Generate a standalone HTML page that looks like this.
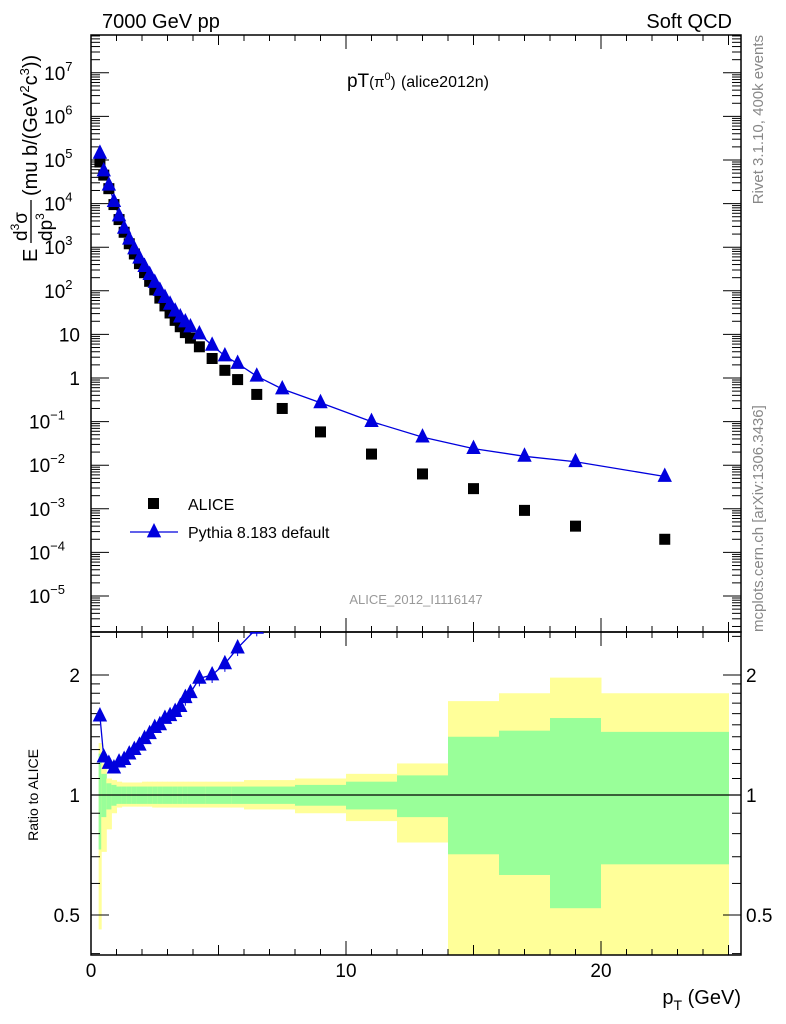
<!DOCTYPE html>
<html><head><meta charset="utf-8"><style>
body{margin:0;background:#fff}
svg{display:block;font-family:"Liberation Sans",sans-serif}
</style></head><body>
<svg id="c" width="786" height="1024" viewBox="0 0 786 1024" xmlns="http://www.w3.org/2000/svg">
<text x="102" y="28" font-size="20">7000 GeV pp</text>
<text x="732" y="28" font-size="20" text-anchor="end">Soft QCD</text>
<text x="418" y="87" font-size="19" text-anchor="middle">pT<tspan font-size="15">(π<tspan dy="-7" font-size="11">0</tspan><tspan dy="7">)</tspan></tspan> <tspan font-size="16">(alice2012n)</tspan></text>
<text x="416" y="604" font-size="13" fill="#999" text-anchor="middle">ALICE_2012_I1116147</text>
<text transform="translate(763,35) rotate(-90)" font-size="15" fill="#888" text-anchor="end">Rivet 3.1.10,  400k events</text>
<text transform="translate(763,632) rotate(-90)" font-size="15" fill="#888">mcplots.cern.ch [arXiv:1306.3436]</text>
<g>
<text transform="translate(37,262) rotate(-90)" font-size="20">E</text>
<text transform="translate(27,241) rotate(-90)" font-size="19">d<tspan font-size="12" dy="-8">3</tspan><tspan dy="8">σ</tspan></text>
<line x1="31" y1="200" x2="31" y2="243" stroke="#000" stroke-width="1.3"/>
<text transform="translate(52,241) rotate(-90)" font-size="19">dp<tspan font-size="12" dy="-8">3</tspan></text>
<text transform="translate(37,196) rotate(-90)" font-size="20">(mu b/(GeV<tspan font-size="13" dy="-8">2</tspan><tspan dy="8">c</tspan><tspan font-size="13" dy="-8">3</tspan><tspan dy="8">))</tspan></text>
</g>
<text transform="translate(38,795) rotate(-90)" font-size="14" text-anchor="middle">Ratio to ALICE</text>
<text x="741" y="1004" font-size="20" text-anchor="end">p<tspan font-size="14" dy="6">T</tspan><tspan dy="-6"> (GeV)</tspan></text>
<g id="g"></g>
</svg>
<script>
const ptLow=[0.3,0.4,0.6,0.8,1.0,1.2,1.4,1.6,1.8,2.0,2.2,2.4,2.6,2.8,3.0,3.2,3.4,3.6,3.8,4.0,4.5,5.0,5.5,6.0,7.0,8.0,10,12,14,16,18,20];
const ptHigh=[0.4,0.6,0.8,1.0,1.2,1.4,1.6,1.8,2.0,2.2,2.4,2.6,2.8,3.0,3.2,3.4,3.6,3.8,4.0,4.5,5.0,5.5,6.0,7.0,8.0,10,12,14,16,18,20,25];
const aliceVals=[9e4,4.5e4,2.2e4,9.5e3,4.3e3,2.2e3,1.2e3,700,420,260,165,105,68,45,31,21,15,11,8.2,5.2,2.8,1.5,0.92,0.42,0.2,0.058,0.018,0.0063,0.0029,0.00092,0.0004,0.0002];
const pythiaVals=[1.42e5,5.6e4,2.64e4,1.11e4,5.2e3,2.7e3,1.52e3,910,560,360,235,155,102,70,49,34,25,19.3,14.8,10.2,5.6,3.2,2.15,1.1,0.56,0.27,0.1,0.044,0.024,0.016,0.012,0.0055];
const bandTotUp=[1.35,1.2,1.1,1.09,1.08,1.075,1.075,1.075,1.075,1.08,1.08,1.08,1.08,1.08,1.08,1.08,1.08,1.08,1.08,1.08,1.08,1.08,1.08,1.09,1.09,1.1,1.13,1.2,1.72,1.8,1.97,1.8];
const bandTotLo=[0.46,0.72,0.82,0.9,0.93,0.935,0.935,0.935,0.935,0.935,0.935,0.93,0.93,0.93,0.93,0.93,0.93,0.93,0.93,0.93,0.93,0.93,0.93,0.92,0.92,0.9,0.86,0.76,0.3,0.3,0.3,0.3];
const bandStatUp=[1.27,1.13,1.07,1.06,1.05,1.05,1.05,1.05,1.05,1.05,1.05,1.05,1.05,1.05,1.05,1.05,1.05,1.05,1.05,1.05,1.05,1.05,1.05,1.05,1.05,1.06,1.08,1.12,1.4,1.45,1.56,1.44];
const bandStatLo=[0.73,0.88,0.92,0.94,0.95,0.95,0.95,0.95,0.95,0.95,0.95,0.95,0.95,0.95,0.95,0.95,0.95,0.95,0.95,0.95,0.95,0.95,0.95,0.95,0.95,0.94,0.92,0.88,0.71,0.63,0.52,0.67];
const yTickExp=[-5,-4,-3,-2,-1,0,1,2,3,4,5,6,7];
const yTickText=["10","10","10","10","10","1","10","10","10","10","10","10","10"];
const yTickSup=["−5","−4","−3","−2","−1","","","2","3","4","5","6","7"];
const rTicks=[0.5,1,2];
const rTickText=["0.5","1","2"];
const xTicks=[0,10,20];

const NS="http://www.w3.org/2000/svg";
const g=document.getElementById('g');
const L=91,R=741,T=35,M=632,B=955;
const xs=v=>L+v*25.5;
const ys=v=>378-43.6*Math.log10(v);
const yr=v=>795-398.6*Math.log10(v);
function mk(tag,at,parent){const e=document.createElementNS(NS,tag);for(const k in at)e.setAttribute(k,at[k]);(parent||g).appendChild(e);return e;}
const defs=mk('defs',{});
const cp=mk('clipPath',{id:'cr'},defs);mk('rect',{x:L,y:M,width:R-L,height:B-M},cp);
const cp2=mk('clipPath',{id:'ct'},defs);mk('rect',{x:L,y:T,width:R-L,height:M-T},cp2);
const bg=mk('g',{'clip-path':'url(#cr)'});


for(let i=0;i<ptLow.length;i++){
 const x0=xs(ptLow[i]),x1=xs(ptHigh[i]);
 const r1=mk('rect',{x:x0,y:yr(bandTotUp[i]),width:x1-x0+0.5,height:yr(bandTotLo[i])-yr(bandTotUp[i]),fill:'#ffff99'},bg);
 
 
 const r2=mk('rect',{x:x0,y:yr(bandStatUp[i]),width:x1-x0+0.5,height:yr(bandStatLo[i])-yr(bandStatUp[i]),fill:'#99ff99'},bg);
 
 
}
mk('line',{x1:L,x2:R,y1:yr(1),y2:yr(1),stroke:'#000','stroke-width':1.2});
const f1=mk('rect',{x:L,y:T,width:R-L,height:M-T,fill:'none',stroke:'#000','stroke-width':1.5});


const f2=mk('rect',{x:L,y:M,width:R-L,height:B-M,fill:'none',stroke:'#000','stroke-width':1.5});


for(let v=0;v<=25;v++){
 const len=v%10==0?14:(v%5==0?10:6);
 for(const [a,b] of [[T,1],[M,1],[M,-1],[B,-1]]) mk('line',{x1:xs(v),x2:xs(v),y1:a,y2:a+b*len,stroke:'#000'});
}
xTicks.forEach(v=>{const t=mk('text',{x:xs(v),y:977,'font-size':19,'text-anchor':'middle'});t.textContent=v;
 
 });
for(let e=-6;e<=7;e++){for(let m=1;m<=9;m++){const y=ys(m*Math.pow(10,e));if(y<T||y>M)continue;
 const len=m==1?18:9;mk('line',{x1:L,x2:L+len,y1:y,y2:y,stroke:'#000'});mk('line',{x1:R,x2:R-len,y1:y,y2:y,stroke:'#000'});}}
yTickExp.forEach((e,i)=>{const t=mk('text',{x:80,y:ys(Math.pow(10,e))+7,'font-size':19,'text-anchor':'end'});
 
 
 if(yTickSup[i]){t.setAttribute('x',80-(yTickSup[i].length*7.5));t.textContent=yTickText[i];const s=mk('tspan',{dy:-9,'font-size':13},t);s.textContent=yTickSup[i];}else t.textContent=yTickText[i];});
[0.4,0.5,0.6,0.7,0.8,0.9,1,1.1,1.2,1.3,1.4,1.5,1.6,1.7,1.8,1.9,2,2.5].forEach(v=>{const y=yr(v);if(y<M||y>B)return;const len=(v==0.5||v==1||v==2)?18:9;
 mk('line',{x1:L,x2:L+len,y1:y,y2:y,stroke:'#000'});mk('line',{x1:R,x2:R-len,y1:y,y2:y,stroke:'#000'});});
rTicks.forEach((v,i)=>{for(const [x,a] of [[80,'end'],[746,'start']]){const t=mk('text',{x:x,y:yr(v)+7,'font-size':19,'text-anchor':a});t.textContent=rTickText[i];
 
 }});
const mid=ptLow.map((l,i)=>(l+ptHigh[i])/2);
const sg=mk('g',{'clip-path':'url(#ct)'});
mk('polyline',{points:mid.map((p,i)=>xs(p)+','+ys(pythiaVals[i])).join(' '),fill:'none',stroke:'#0000dd','stroke-width':1.3},sg);
const tri=(x,y,s,p)=>mk('polygon',{points:`${x},${y-s*0.75} ${x-s*0.6},${y+s*0.45} ${x+s*0.6},${y+s*0.45}`,fill:'#0000dd'},p);
mid.forEach((p,i)=>{const r=mk('rect',{x:xs(p)-5.5,y:ys(aliceVals[i])-5.5,width:11,height:11,fill:'#000'},sg);
 
 });
mid.forEach((p,i)=>{const t=tri(xs(p),ys(pythiaVals[i]),12,sg);
 
 });
const rg=mk('g',{'clip-path':'url(#cr)'});
const rat=mid.map((p,i)=>pythiaVals[i]/aliceVals[i]);
mk('polyline',{points:mid.map((p,i)=>xs(p)+','+yr(rat[i])).join(' '),fill:'none',stroke:'#0000dd','stroke-width':1.3},rg);
mid.forEach((p,i)=>{const y=yr(rat[i]);const e=i>13?8:3;mk('line',{x1:xs(p),x2:xs(p),y1:y-e,y2:y+e,stroke:'#0000dd'},rg);
 const t=tri(xs(p),y,12,rg);
 
 });
const lg=mk('g',{});


mk('rect',{x:148,y:498,width:11,height:11,fill:'#000'},lg);
let t=mk('text',{x:188,y:510,'font-size':16},lg);t.textContent='ALICE';
mk('line',{x1:130,x2:178,y1:532,y2:532,stroke:'#0000dd','stroke-width':1.3},lg);
tri(154,532,12,lg);
t=mk('text',{x:188,y:538,'font-size':16},lg);t.textContent='Pythia 8.183 default';
</script>
</body></html>
